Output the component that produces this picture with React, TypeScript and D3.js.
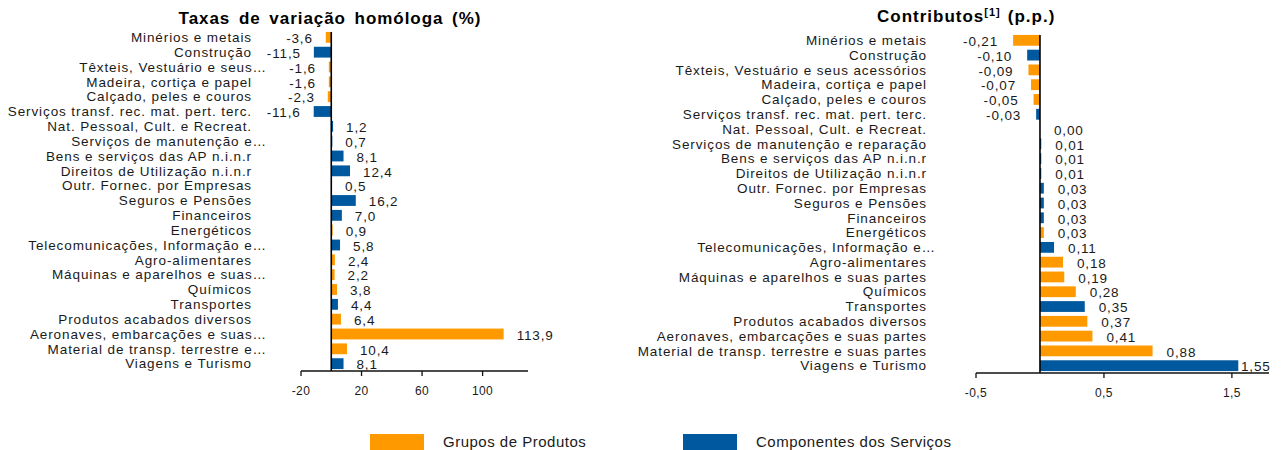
import React from "react";
import * as d3 from "d3";

const categories = [
  "Minérios e metais",
  "Construção",
  "Têxteis, Vestuário e seus acessórios",
  "Madeira, cortiça e papel",
  "Calçado, peles e couros",
  "Serviços transf. rec. mat. pert. terc.",
  "Nat. Pessoal, Cult. e Recreat.",
  "Serviços de manutenção e reparação",
  "Bens e serviços das AP n.i.n.r",
  "Direitos de Utilização n.i.n.r",
  "Outr. Fornec. por Empresas",
  "Seguros e Pensões",
  "Financeiros",
  "Energéticos",
  "Telecomunicações, Informação e Informática",
  "Agro-alimentares",
  "Máquinas e aparelhos e suas partes",
  "Químicos",
  "Transportes",
  "Produtos acabados diversos",
  "Aeronaves, embarcações e suas partes",
  "Material de transp. terrestre e suas partes",
  "Viagens e Turismo",
];

const leftLabels = [
  "Minérios e metais",
  "Construção",
  "Têxteis, Vestuário e seus…",
  "Madeira, cortiça e papel",
  "Calçado, peles e couros",
  "Serviços transf. rec. mat. pert. terc.",
  "Nat. Pessoal, Cult. e Recreat.",
  "Serviços de manutenção e…",
  "Bens e serviços das AP n.i.n.r",
  "Direitos de Utilização n.i.n.r",
  "Outr. Fornec. por Empresas",
  "Seguros e Pensões",
  "Financeiros",
  "Energéticos",
  "Telecomunicações, Informação e…",
  "Agro-alimentares",
  "Máquinas e aparelhos e suas…",
  "Químicos",
  "Transportes",
  "Produtos acabados diversos",
  "Aeronaves, embarcações e suas…",
  "Material de transp. terrestre e…",
  "Viagens e Turismo",
];

const rightLabels = [
  "Minérios e metais",
  "Construção",
  "Têxteis, Vestuário e seus acessórios",
  "Madeira, cortiça e papel",
  "Calçado, peles e couros",
  "Serviços transf. rec. mat. pert. terc.",
  "Nat. Pessoal, Cult. e Recreat.",
  "Serviços de manutenção e reparação",
  "Bens e serviços das AP n.i.n.r",
  "Direitos de Utilização n.i.n.r",
  "Outr. Fornec. por Empresas",
  "Seguros e Pensões",
  "Financeiros",
  "Energéticos",
  "Telecomunicações, Informação e…",
  "Agro-alimentares",
  "Máquinas e aparelhos e suas partes",
  "Químicos",
  "Transportes",
  "Produtos acabados diversos",
  "Aeronaves, embarcações e suas partes",
  "Material de transp. terrestre e suas partes",
  "Viagens e Turismo",
];

// P = Grupos de Produtos, S = Componentes dos Serviços
const groups = [
  "P", "S", "P", "P", "P", "S", "S", "S", "S", "S", "S", "S",
  "S", "P", "S", "P", "P", "P", "S", "P", "P", "P", "S",
];

const taxas = [
  -3.6, -11.5, -1.6, -1.6, -2.3, -11.6, 1.2, 0.7, 8.1, 12.4, 0.5, 16.2,
  7.0, 0.9, 5.8, 2.4, 2.2, 3.8, 4.4, 6.4, 113.9, 10.4, 8.1,
];

const contributos = [
  -0.21, -0.1, -0.09, -0.07, -0.05, -0.03, 0.0, 0.01, 0.01, 0.01, 0.03, 0.03,
  0.03, 0.03, 0.11, 0.18, 0.19, 0.28, 0.35, 0.37, 0.41, 0.88, 1.55,
];

const taxasTicks = [-20, 20, 60, 100];
const contribTicks = [-0.5, 0.5, 1.5];

const seriesNames = { P: "Grupos de Produtos", S: "Componentes dos Serviços" };
const colors: Record<string, string> = { P: "#FF9900", S: "#00589E" };

const FONT = "'Liberation Sans', Arial, Helvetica, sans-serif";
const TXT = "#1a1a1a";

type PanelProps = {
  values: number[];
  labels: string[];
  domain: [number, number];
  xRange: [number, number];
  yRange: [number, number];
  labelX: number;
  ellipsisShift: number;
  ticks: number[];
  decimals: number;
  gapPos: number;
  gapNeg: number;
  maxLabelX: number;
};

function fmt(v: number, d: number) {
  return v.toFixed(d).replace(".", ",");
}

function Panel(p: PanelProps) {
  const x = d3.scaleLinear().domain(p.domain).range(p.xRange);
  const y = d3
    .scaleBand<string>()
    .domain(categories)
    .range(p.yRange)
    .paddingInner(0.27)
    .paddingOuter(0.13);
  const x0 = x(0);
  const axisY = p.yRange[1];
  return (
    <g fontFamily={FONT} fill={TXT}>
      {categories.map((c, i) => {
        const v = p.values[i];
        const xa = Math.min(x(v), x0);
        const w = Math.abs(x(v) - x0);
        return (
          <rect
            key={"b" + i}
            x={xa}
            y={y(c)!}
            width={w}
            height={y.bandwidth()}
            fill={colors[groups[i]]}
          />
        );
      })}
      {categories.map((c, i) => {
        const lab = p.labels[i];
        const trunc = lab.endsWith("…");
        return (
          <text
            key={"l" + i}
            x={p.labelX + (trunc ? p.ellipsisShift : 0)}
            y={y(c)! + y.bandwidth() / 2}
            dy="0.35em"
            textAnchor="end"
            fontSize={13.5}
            letterSpacing={0.9}
          >
            {lab}
          </text>
        );
      })}
      {categories.map((c, i) => {
        const v = p.values[i];
        const neg = v < 0;
        let tx = neg ? x(v) - p.gapNeg : x(v) + p.gapPos;
        const approxW = fmt(v, p.decimals).length * 8;
        if (!neg && tx + approxW > p.maxLabelX) tx = p.maxLabelX - approxW;
        return (
          <text
            key={"v" + i}
            x={tx}
            y={y(c)! + y.bandwidth() / 2 + 1}
            dy="0.35em"
            textAnchor={neg ? "end" : "start"}
            fontSize={13.5}
            letterSpacing={0.85}
          >
            {fmt(v, p.decimals)}
          </text>
        );
      })}
      <line
        x1={x0}
        x2={x0}
        y1={p.yRange[0] + 2}
        y2={axisY}
        stroke="#000"
        strokeWidth={1.6}
      />
      <line
        x1={p.xRange[0]}
        x2={p.xRange[1]}
        y1={axisY}
        y2={axisY}
        stroke="#111"
        strokeWidth={1.5}
      />
      {p.ticks.map((t) => (
        <g key={"t" + t}>
          <line x1={x(t)} x2={x(t)} y1={axisY} y2={axisY + 5} stroke="#111" strokeWidth={1.3} />
          <text
            x={x(t)}
            y={axisY + 20}
            dy="0.35em"
            textAnchor="middle"
            fontSize={12}
            letterSpacing={0.4}
          >
            {String(t).replace(".", ",")}
          </text>
        </g>
      ))}
    </g>
  );
}

export default function App() {
  return (
    <svg
      width={1286}
      height={450}
      style={{ position: "absolute", left: 0, top: 0, background: "#fff" }}
    >
      <rect x={0} y={0} width={1286} height={450} fill="#fff" />
      <text
        x={330}
        y={24}
        textAnchor="middle"
        fontFamily={FONT}
        fontWeight="bold"
        fontSize={17}
        letterSpacing={0.95}
        wordSpacing={3}
        fill="#000"
      >
        Taxas de variação homóloga (%)
      </text>
      <text
        x={877}
        y={22}
        fontFamily={FONT}
        fontWeight="bold"
        fontSize={17}
        letterSpacing={1}
        fill="#000"
      >
        Contributos
        <tspan fontSize={11} dy={-6}>[1]</tspan>
        <tspan dy={6} dx={7}>(p.p.)</tspan>
      </text>
      <Panel
        values={taxas}
        labels={leftLabels}
        domain={[-20, 130]}
        xRange={[301, 528]}
        yRange={[30, 371]}
        labelX={252}
        ellipsisShift={15}
        ticks={taxasTicks}
        decimals={1}
        gapPos={13}
        gapNeg={13}
        maxLabelX={560}
      />
      <Panel
        values={contributos}
        labels={rightLabels}
        domain={[-0.5, 1.79]}
        xRange={[976, 1269]}
        yRange={[33, 373]}
        labelX={927}
        ellipsisShift={9}
        ticks={contribTicks}
        decimals={2}
        gapPos={14}
        gapNeg={15}
        maxLabelX={1273}
      />
      <g fontFamily={FONT} fontSize={15} letterSpacing={0.5} fill={TXT}>
        {(["P", "S"] as const).map((k, i) => (
          <g key={k} transform={`translate(${370 + i * 313},434)`}>
            <rect x={0} y={0} width={54} height={16} fill={colors[k]} />
            <text x={73} y={7.5} dy="0.35em">
              {seriesNames[k]}
            </text>
          </g>
        ))}
      </g>
    </svg>
  );
}
